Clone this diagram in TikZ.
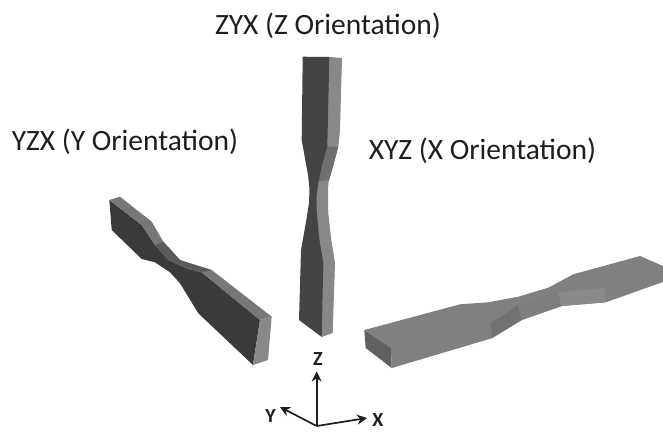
\documentclass[tikz,border=0pt]{standalone}
\usepackage{fontspec}
\setmainfont{Carlito}
\usetikzlibrary{arrows.meta}
\definecolor{zdark}{HTML}{444444}
\definecolor{zlight}{HTML}{888888}
\definecolor{zmid}{HTML}{707070}
\definecolor{ydark}{HTML}{3A3A3A}
\definecolor{ylight}{HTML}{777777}
\definecolor{ymid}{HTML}{5A5A5A}
\definecolor{xtop}{HTML}{808080}
\definecolor{xf1}{HTML}{727272}
\definecolor{xf2}{HTML}{7E7E7E}
\definecolor{xf3}{HTML}{8A8A8A}
\definecolor{xend}{HTML}{606060}
\definecolor{ink}{HTML}{1E1E1E}
\tikzset{
  title/.style={font=\fontsize{29.5}{34}\selectfont, text=ink, inner sep=0pt},
  axislabel/.style={font=\bfseries\fontsize{20}{22}\selectfont, text=ink, inner sep=0pt},
  axis/.style={draw=ink, line width=1.7pt, -{Stealth[length=10pt,width=10pt]}}
}
\begin{document}
\begin{tikzpicture}[x=1pt,y=-1pt]
\useasboundingbox (0,0) rectangle (663,432);
\fill[white] (0,0) rectangle (663,432);
% Z specimen
\fill[zlight] (329.3,57) -- (342,58) -- (340,130) -- (338.3,146.7) -- (332,170) -- (328.3,183) -- (328,198) -- (328.3,213) -- (331,238) -- (335,263) -- (332.7,333) -- (321.7,337) -- (315,263) -- (312,210) -- (312,183) -- (320,146.7) -- cycle;
\fill[zmid] (320,146.7) -- (338.3,146.7) -- (332,170) -- (329,180) -- (312,182) -- (316,165) -- cycle;
\fill[zdark] (302.7,56.7) -- (329.3,57) -- (327.3,146.7) -- (322,165) -- (318.3,183) -- (316.5,197) -- (316.7,210) -- (319,237) -- (323.3,263) -- (321.7,337) -- (299,320) -- (301,250) -- (306,222) -- (309,203) -- (309.5,190) -- (308.3,176.7) -- (301.7,140) -- cycle;
% Y specimen
\fill[ydark] (109.3,200) -- (111.7,230) -- (141.7,259) -- (155,262.3) -- (170,272.3) -- (180,283.3) -- (198.3,313.3) -- (253,365) -- (260,320) -- (201.7,272.3) -- (186.7,268.3) -- (168.3,260) -- (155,245) -- (141.7,225) -- cycle;
\fill[ylight] (109.3,200) -- (120,196.7) -- (151.7,221.7) -- (163.3,241.7) -- (180,260) -- (211.7,270) -- (271.7,316.7) -- (260,320) -- (201.7,272.3) -- (186.7,268.3) -- (168.3,260) -- (155,245) -- (141.7,225) -- cycle;
\fill[ymid] (163.3,241.7) -- (180,260) -- (195,265) -- (211.7,270) -- (201.7,272.3) -- (186.7,268.3) -- (168.3,260) -- (155,245) -- cycle;
\fill[zlight] (260,320) -- (271.7,316.7) -- (268,360) -- (253,365) -- cycle;
% X specimen
\fill[xtop] (364.3,330) -- (460,304.3) -- (488.3,302.3) -- (518.3,296.7) -- (548.3,287.7) -- (573.3,274.3) -- (640,256) -- (663,266) -- (663,282) -- (605.7,302.3) -- (561.7,306) -- (521.7,320) -- (491.7,338.3) -- (391.7,368) -- (391,348) -- cycle;
\fill[xf1] (491,323.3) -- (518,305) -- (521.7,320) -- (491.7,338.3) -- cycle;
\fill[xf2] (518,305) -- (558,292.7) -- (561.7,306) -- (521.7,320) -- cycle;
\fill[xf3] (558,292.7) -- (605,287.7) -- (605.7,302.3) -- (561.7,306) -- cycle;
\fill[xend] (364.3,330) -- (391,348) -- (391.7,368) -- (365.7,348) -- cycle;
% Axes
\coordinate (o) at (316.7,426);
\coordinate (zt) at (316.7,371.5);
\coordinate (xt) at (367,418);
\coordinate (yt) at (280,407);
\draw[axis] (o) -- (zt);
\draw[axis] (o) -- (xt);
\draw[axis] (o) -- (yt);
\node[axislabel] (zl) at (318,359) {Z};
\node[axislabel] (xl) at (378,420) {X};
\node[axislabel] (yl) at (270.5,416) {Y};
% Titles
\node[title] (tz) at (328,26) {ZYX (Z Orientation)};
\node[title] (ty) at (125,142) {YZX (Y Orientation)};
\node[title] (tx) at (482.5,151) {XYZ (X Orientation)};
\end{tikzpicture}
\end{document}
